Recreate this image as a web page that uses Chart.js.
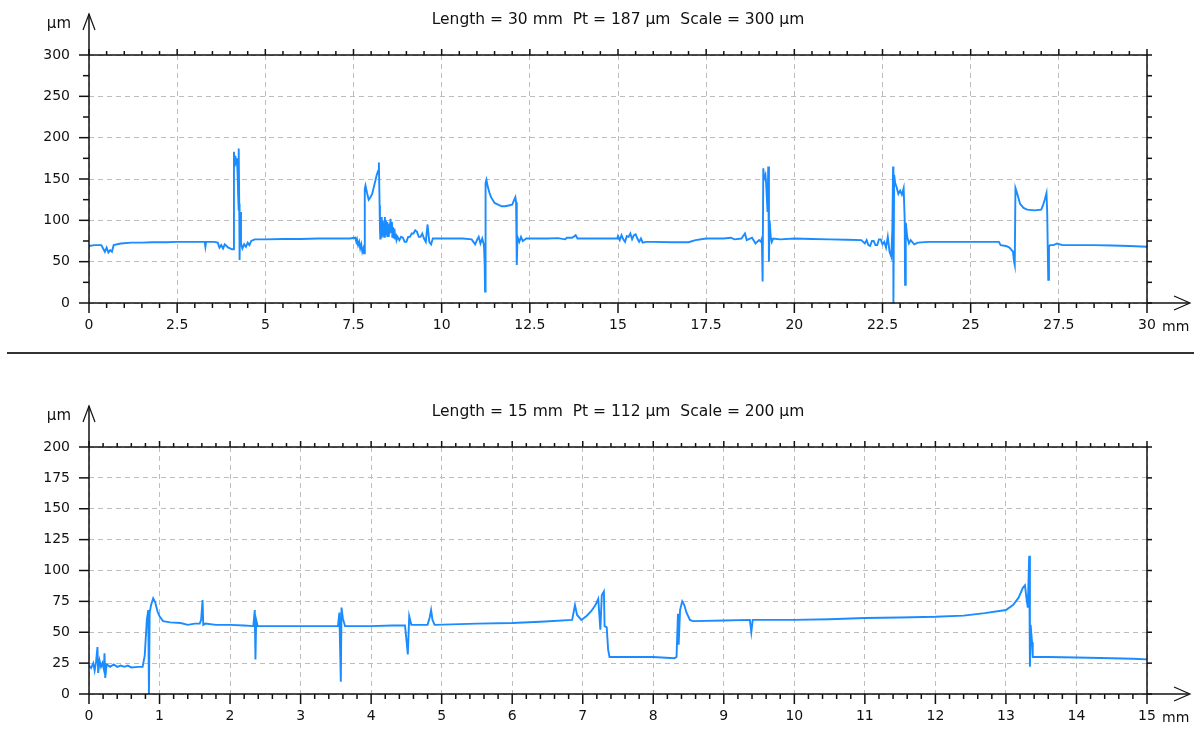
<!DOCTYPE html>
<html>
<head>
<meta charset="utf-8">
<script src="https://cdn.jsdelivr.net/npm/chart.js@4.4.1/dist/chart.umd.min.js"></script>
<style>
body { margin: 0; background: #fff; width: 1194px; height: 742px; overflow: hidden; position: relative; }
canvas { position: absolute; left: 0; }
#topChart { top: 0; }
#bottomChart { top: 392px; }
.sep { position: absolute; left: 7px; right: 0; top: 352px; height: 2px; background: #333; }
</style>
</head>
<body>
<canvas id="topChart" width="1194" height="350"></canvas>
<div class="sep"></div>
<canvas id="bottomChart" width="1194" height="350"></canvas>
<script>
// profile 1 : 30 mm
const topTitle = 'Length = 30 mm  Pt = 187 µm  Scale = 300 µm';
const topXTicks = [0, 2.5, 5, 7.5, 10, 12.5, 15, 17.5, 20, 22.5, 25, 27.5, 30];
const topYTicks = [0, 50, 100, 150, 200, 250, 300];
const topX = [0, 0.15, 0.35, 0.4, 0.45, 0.5, 0.55, 0.6, 0.65, 0.7, 0.9, 1.2, 1.5, 1.8, 2.2, 2.5, 2.8, 3.1, 3.28, 3.3, 3.32, 3.55, 3.65, 3.7, 3.75, 3.8, 3.85, 3.9, 3.95, 4.0, 4.05, 4.09,
  4.11, 4.13, 4.15, 4.17, 4.19, 4.21, 4.23, 4.24, 4.25, 4.26, 4.27, 4.29, 4.31, 4.35, 4.4, 4.45, 4.5, 4.55, 4.6, 4.7, 5.0, 5.5, 6.0, 6.5, 7.0, 7.4,
  7.55, 7.58, 7.6, 7.63, 7.66, 7.69, 7.72, 7.75, 7.78, 7.8,
  7.82, 7.84, 7.88, 7.93, 7.98, 8.03, 8.08, 8.12, 8.16, 8.2, 8.22,
  8.24, 8.25, 8.26, 8.27, 8.28, 8.3, 8.31, 8.33, 8.34, 8.36, 8.37, 8.39, 8.4, 8.42, 8.43, 8.45, 8.46, 8.48, 8.5, 8.52, 8.53, 8.55, 8.57, 8.59, 8.6, 8.62, 8.64, 8.66, 8.68, 8.7, 8.72, 8.75,
  8.8, 8.85, 8.9, 8.95, 9.0, 9.05, 9.1, 9.15, 9.2, 9.25, 9.3, 9.35, 9.4, 9.45, 9.5, 9.55, 9.6, 9.62, 9.65, 9.7, 9.75,
  10.0, 10.3, 10.6, 10.85, 10.9, 10.95, 11.0, 11.05, 11.1, 11.15, 11.2, 11.22, 11.23, 11.24, 11.25, 11.27, 11.3, 11.35, 11.4,
  11.5, 11.6, 11.7, 11.8, 11.9, 12.0, 12.05, 12.09, 12.11, 12.13, 12.15, 12.2, 12.25, 12.3, 12.4, 12.6, 13.0, 13.3, 13.5, 13.55, 13.7, 13.8, 13.85, 14.0, 14.5, 14.98,
  15.0, 15.05, 15.1, 15.15, 15.2, 15.25, 15.3, 15.35, 15.4, 15.45, 15.5, 15.55, 15.6, 15.65, 15.7, 15.8, 16.0, 16.5, 17.0, 17.2, 17.5, 18.0, 18.2, 18.3, 18.5, 18.6, 18.65, 18.8, 18.9,
  19.0, 19.05, 19.08, 19.1, 19.12, 19.14, 19.18, 19.2, 19.24, 19.26, 19.28, 19.3, 19.33, 19.36, 19.4, 19.6, 20.0, 20.5, 21.0, 21.5, 21.9,
  22.0, 22.05, 22.1, 22.15, 22.2, 22.25, 22.3, 22.35, 22.4, 22.45, 22.5, 22.55, 22.6, 22.65, 22.7,
  22.75, 22.78, 22.8, 22.81, 22.83, 22.86, 22.9, 22.95, 23.0, 23.05, 23.1, 23.13, 23.14, 23.16, 23.2, 23.25, 23.3, 23.4, 23.5, 23.8, 24.2, 24.7, 25.3, 25.8, 25.85, 26.0, 26.1,
  26.2, 26.23, 26.25, 26.27, 26.3, 26.35, 26.4, 26.5, 26.6, 26.8, 27.0, 27.05, 27.1, 27.15, 27.17, 27.2, 27.22, 27.25, 27.35, 27.45, 27.6, 28.0, 28.5, 29.0, 29.5, 30.0];
const topY = [69, 70, 70, 66, 62, 67, 61, 64, 62, 70, 72, 73, 73, 73.5, 73.5, 74, 74, 74, 74, 68, 74, 74, 73, 67, 70, 66, 71, 69, 67, 66, 65, 65,
  183, 165, 178, 168, 175, 160, 130, 112, 187, 120, 52, 110, 72, 66, 71, 68, 73, 70, 75, 77, 77, 77.5, 77.5, 78, 78, 78,
  79, 74, 77, 70, 74, 66, 71, 62, 66, 60,
  138, 142, 134, 125, 128, 132, 141, 148, 155, 160, 170,
  118, 90, 78, 96, 80, 104, 82, 100, 84, 98, 80, 104, 86, 100, 82, 98, 80, 95, 80, 96, 84, 102, 86, 98, 80, 92, 78, 90, 78, 84, 76, 80,
  76, 80, 79, 74, 74, 80, 80, 84, 84, 88, 86, 80, 80, 84, 78, 74, 95, 86, 74, 71, 78,
  78, 78, 78, 77, 74, 71, 76, 80, 72, 78, 70, 46, 14, 76, 145, 149, 142, 134, 128,
  121, 119, 117, 117, 118, 119, 124, 128, 122, 46, 80, 74, 80, 75, 78, 78, 78, 78.5, 77, 79, 79, 82, 78, 78, 78, 78,
  81, 76, 82, 77, 74, 81, 80, 84, 77, 82, 83, 78, 74, 78, 73, 74, 74, 73.5, 73.5, 76, 78, 78, 79, 77, 78, 84, 76, 79, 72,
  76, 74, 78, 26, 163, 150, 155, 145, 110, 165, 50, 100, 80, 74, 78, 77, 78, 77.5, 77, 76.5, 76,
  72, 76, 70, 69, 75, 75, 70, 70, 77, 77, 71, 74, 67, 80, 62,
  56, 90, 165, 0, 155, 145, 140, 132, 136, 131, 139, 100, 22, 97, 80, 72, 76, 71, 73, 74, 74, 74, 74, 74, 70, 69, 67,
  62, 50, 46, 139, 135, 128, 120, 115, 113, 112, 113, 118, 125, 133, 110, 28, 68, 70, 70, 72, 70, 70, 70, 69.5, 69, 68];

// profile 2 : 15 mm
const bottomTitle = 'Length = 15 mm  Pt = 112 µm  Scale = 200 µm';
const bottomXTicks = [0, 1, 2, 3, 4, 5, 6, 7, 8, 9, 10, 11, 12, 13, 14, 15];
const bottomYTicks = [0, 25, 50, 75, 100, 125, 150, 175, 200];
const bottomX = [0, 0.03, 0.06, 0.08, 0.1, 0.12, 0.13, 0.15, 0.17, 0.19, 0.21, 0.22, 0.23, 0.25, 0.3, 0.35, 0.4, 0.45, 0.5, 0.55, 0.6, 0.7, 0.76, 0.79,
  0.82, 0.84, 0.85, 0.86, 0.88, 0.91, 0.94, 0.97, 1.0, 1.05, 1.15, 1.3, 1.4, 1.5, 1.57, 1.59, 1.61, 1.62, 1.65, 1.8, 2.0, 2.2, 2.33, 2.35, 2.36, 2.37, 2.39,
  2.6, 3.0, 3.3, 3.53, 3.55, 3.56, 3.57, 3.58, 3.6, 3.63, 4.0, 4.3, 4.48, 4.5, 4.52, 4.54, 4.57, 4.8, 4.83, 4.85, 4.87, 4.9, 5.5, 6.0, 6.4, 6.85, 6.89,
  6.92, 6.98, 7.05, 7.12, 7.18, 7.22, 7.25, 7.27, 7.3, 7.31, 7.34, 7.36, 7.38, 7.6, 8.0, 8.3, 8.33, 8.35, 8.36, 8.38, 8.41, 8.44, 8.47, 8.52, 8.56, 9.0,
  9.37, 9.39, 9.41, 10.0, 10.5, 11.0, 11.5, 12.0, 12.4, 12.7, 13.0, 13.1, 13.18, 13.24, 13.27, 13.29, 13.31, 13.33, 13.34, 13.35, 13.37, 13.38, 13.6,
  14.0, 14.5, 14.8, 15.0];
const bottomY = [23, 21, 25, 19, 26, 38, 17, 27, 22, 25, 20, 33, 13, 24, 22, 24, 22, 23, 22, 23, 21.5, 22, 22, 31,
  60, 68, 0, 66, 72, 77.5, 74, 67, 63, 59, 58, 57.5, 56, 57, 57, 60, 76, 56, 57, 56, 56, 55.5, 55, 68, 28, 60, 55,
  55, 55, 55, 55, 66, 37, 10, 70, 61, 55, 55, 55.5, 55.5, 44, 32, 63, 56, 56, 62, 68, 60, 56, 57, 57.5, 58.5, 60, 72,
  64, 60, 63, 67, 72, 77, 52, 80, 83, 55, 54, 36, 30, 30, 30, 29, 30, 65, 40, 68, 75, 72, 66, 60, 59, 59.5,
  60, 50, 60, 60, 60.5, 61.5, 62, 62.5, 63.5, 65.5, 68, 72, 78, 86, 88, 78, 70, 112, 22, 56, 42, 30, 30,
  29.5, 29, 28.5, 28];

Chart.defaults.font.family = '"DejaVu Sans", sans-serif';
Chart.defaults.font.size = 14;
Chart.defaults.color = '#111';

const profileAxes = {
  id: 'profileAxes',
  afterDraw(chart, args, o) {
    const { ctx, chartArea: a, scales: { x, y } } = chart;
    const line = (x1, y1, x2, y2) => { ctx.beginPath(); ctx.moveTo(x1, y1); ctx.lineTo(x2, y2); ctx.stroke(); };
    const near = (v, step) => Math.abs(v / step - Math.round(v / step)) < 1e-6;
    ctx.save();
    ctx.strokeStyle = '#111';
    ctx.fillStyle = '#111';
    ctx.lineWidth = 1.5;
    line(a.left, a.bottom, a.left, a.top - 41);
    line(a.left, a.bottom, a.right + 42, a.bottom);
    line(a.left, a.top, a.right, a.top);
    line(a.right, a.top, a.right, a.bottom);

    ctx.lineWidth = 1.2;
    ctx.beginPath(); ctx.moveTo(a.left - 6, a.top - 25); ctx.lineTo(a.left, a.top - 41); ctx.lineTo(a.left + 6, a.top - 25); ctx.stroke();
    ctx.beginPath(); ctx.moveTo(a.right + 27, a.bottom - 7); ctx.lineTo(a.right + 43, a.bottom); ctx.lineTo(a.right + 27, a.bottom + 7); ctx.stroke();

    ctx.lineWidth = 1.5;
    for (let v = x.min; v <= x.max + 1e-6; v += o.minorX) {
      const px = x.getPixelForValue(v);
      const major = near(v, o.majorX);
      line(px, a.bottom, px, a.bottom + (major ? 10 : 5));
      line(px, a.top, px, a.top - (major ? 6 : 4));
    }
    for (let v = y.min; v <= y.max + 1e-6; v += o.minorY) {
      const py = y.getPixelForValue(v);
      line(a.left, py, a.left - (near(v, o.majorY) ? 10 : 6), py);
      line(a.right, py, a.right + 5, py);
    }

    ctx.font = '15.5px "DejaVu Sans"';
    ctx.textBaseline = 'alphabetic';
    ctx.textAlign = 'center';
    ctx.fillText(o.title, (a.left + a.right) / 2, a.top - 31);
    ctx.font = '15px "DejaVu Sans"';
    ctx.textAlign = 'right';
    ctx.fillText('µm', a.left - 18, a.top - 27);
    ctx.font = '14px "DejaVu Sans"';
    ctx.textAlign = 'left';
    ctx.fillText('mm', a.right + 15, a.bottom + 28);
    ctx.restore();
  }
};

function makeProfile(id, xs, ys, xTicks, yTicks, axes) {
  const plotBottom = 303 - (id === 'bottomChart' ? 1 : 0);
  new Chart(document.getElementById(id), {
    type: 'line',
    data: {
      datasets: [{
        data: xs.map((v, i) => ({ x: v, y: ys[i] })),
        borderColor: '#1a8cff',
        borderWidth: 1.9,
        pointRadius: 0,
        tension: 0,
        fill: false
      }]
    },
    options: {
      responsive: false,
      animation: false,
      devicePixelRatio: 1,
      layout: { padding: { left: 0, right: 47, top: 55, bottom: 350 - plotBottom - 30 } },
      scales: {
        x: {
          type: 'linear',
          min: xTicks[0],
          max: xTicks[xTicks.length - 1],
          afterBuildTicks: s => { s.ticks = xTicks.map(v => ({ value: v })); },
          afterFit: s => { s.height = 30; },
          ticks: { padding: 14, autoSkip: false, maxRotation: 0, callback: v => String(v) },
          grid: { color: '#bdbdbd', lineWidth: 1, drawTicks: false },
          border: { display: false, dash: [5, 4] }
        },
        y: {
          min: yTicks[0],
          max: yTicks[yTicks.length - 1],
          afterBuildTicks: s => { s.ticks = yTicks.map(v => ({ value: v })); },
          afterFit: s => { s.width = 89; },
          ticks: { padding: 19, autoSkip: false, callback: v => String(v) },
          grid: { color: '#bdbdbd', lineWidth: 1, drawTicks: false },
          border: { display: false, dash: [5, 4] }
        }
      },
      plugins: {
        legend: { display: false },
        tooltip: { enabled: false },
        profileAxes: axes
      }
    },
    plugins: [profileAxes]
  });
}

makeProfile('topChart', topX, topY, topXTicks, topYTicks,
  { title: topTitle, minorX: 0.5, majorX: 2.5, minorY: 25, majorY: 50 });
makeProfile('bottomChart', bottomX, bottomY, bottomXTicks, bottomYTicks,
  { title: bottomTitle, minorX: 0.2, majorX: 1, minorY: 25, majorY: 25 });
</script>
</body>
</html>
